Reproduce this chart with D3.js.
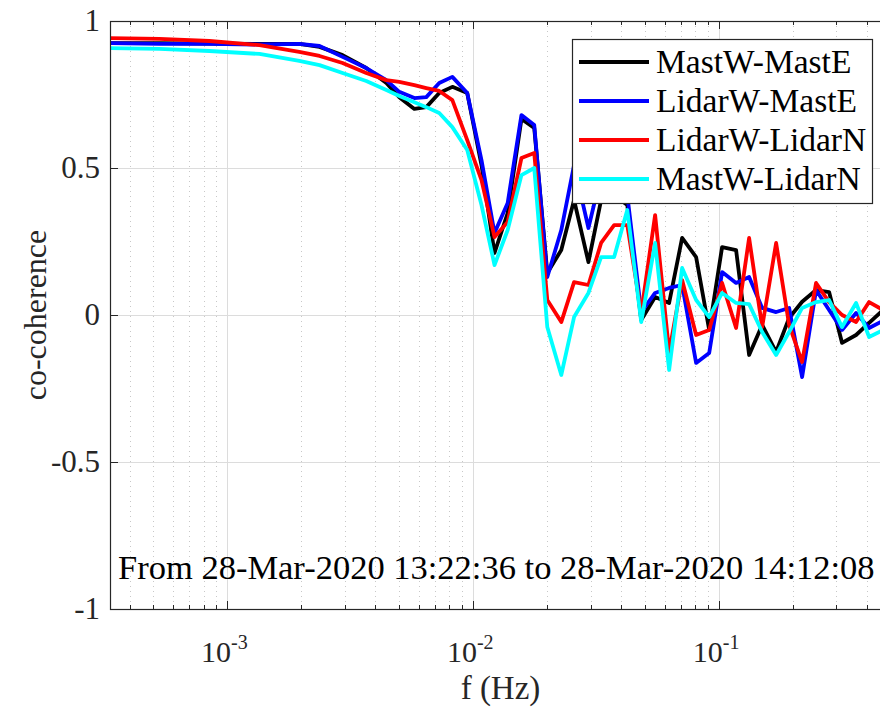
<!DOCTYPE html>
<html>
<head>
<meta charset="utf-8">
<script src="https://cdn.jsdelivr.net/npm/d3@7"></script>
<style>
  body { margin: 0; background: #fff; }
  svg { display: block; }
  svg text { font-family: 'Liberation Serif', 'DejaVu Serif', 'Noto Serif', 'Times New Roman', Times, serif; }
  .grid-major { stroke: #dcdcdc; stroke-width: 1; }
  .grid-minor { stroke: #c8c8c8; stroke-width: 1; stroke-dasharray: 1,4; }
  .tick { stroke: #262626; stroke-width: 1; }
</style>
</head>
<body>
<script>
// frequencies (Hz) and co-coherence for each pair
const freq = [0.000333, 0.000529, 0.000845, 0.00135, 0.00196, 0.00237, 0.00294, 0.00367, 0.00443, 0.00500,
  0.00576, 0.00644, 0.00727, 0.00822, 0.00945, 0.0108, 0.0122, 0.0138, 0.0157, 0.0177,
  0.0200, 0.0228, 0.0257, 0.0294, 0.0331, 0.0374, 0.0423, 0.0482, 0.0549, 0.0626,
  0.0707, 0.0806, 0.0911, 0.1028, 0.1172, 0.1324, 0.1496, 0.1705, 0.1926, 0.2175,
  0.2479, 0.2800, 0.3162, 0.3605, 0.4073, 0.4642];

const mastWMastE = [0.925, 0.925, 0.923, 0.922, 0.922, 0.912, 0.884, 0.840, 0.789, 0.741,
  0.701, 0.707, 0.755, 0.776, 0.755, 0.510, 0.211, 0.347, 0.667, 0.636,
  0.143, 0.221, 0.391, 0.180, 0.391, 0.408, 0.374, -0.017, 0.061, 0.041,
  0.262, 0.197, -0.051, 0.231, 0.221, -0.136, -0.034, -0.126, -0.010, 0.045,
  0.085, 0.078, -0.095, -0.068, -0.027, 0.017];

const lidarWMastE = [0.925, 0.922, 0.922, 0.920, 0.922, 0.915, 0.878, 0.840, 0.799, 0.759,
  0.738, 0.741, 0.789, 0.810, 0.755, 0.527, 0.279, 0.381, 0.680, 0.646,
  0.129, 0.289, 0.510, 0.296, 0.476, 0.442, 0.408, 0.010, 0.075, 0.092,
  0.102, -0.163, -0.129, 0.146, 0.109, 0.129, 0.024, 0.010, 0.024, -0.211,
  0.085, 0.017, -0.051, 0.007, -0.044, -0.020];

const lidarWLidarN = [0.942, 0.939, 0.932, 0.918, 0.895, 0.881, 0.857, 0.823, 0.799, 0.793,
  0.782, 0.772, 0.762, 0.731, 0.595, 0.459, 0.265, 0.316, 0.534, 0.551,
  0.051, -0.024, 0.112, 0.102, 0.245, 0.306, 0.306, 0.007, 0.340, -0.126,
  0.119, -0.068, -0.051, 0.109, -0.044, 0.262, -0.041, 0.245, -0.034, -0.160,
  0.109, 0.044, 0.000, -0.024, 0.044, 0.017];

const mastWLidarN = [0.908, 0.905, 0.898, 0.888, 0.864, 0.850, 0.823, 0.796, 0.765, 0.745,
  0.724, 0.707, 0.687, 0.639, 0.561, 0.374, 0.170, 0.289, 0.476, 0.500,
  -0.041, -0.204, -0.007, 0.075, 0.197, 0.197, 0.357, -0.024, 0.245, -0.187,
  0.160, 0.051, -0.007, 0.075, 0.041, 0.037, -0.058, -0.136, -0.058, 0.024,
  0.044, 0.051, -0.041, 0.041, -0.075, -0.051];

const seriesNames = ['MastW-MastE', 'LidarW-MastE', 'LidarW-LidarN', 'MastW-LidarN'];
const seriesColors = ['#000000', '#0000ff', '#ff0000', '#00ffff'];
const seriesValues = [mastWMastE, lidarWMastE, lidarWLidarN, mastWLidarN];

const yTicks = [-1, -0.5, 0, 0.5, 1];
const yTickLabels = ['-1', '-0.5', '0', '0.5', '1'];
const xMajor = [1e-3, 1e-2, 1e-1];
const xMajorExp = ['-3', '-2', '-1'];
const noteText = 'From 28-Mar-2020 13:22:36 to 28-Mar-2020 14:12:08';

let width = 880
let height = 710
const margin = { left: 110, right: 891, top: 21, bottom: 609 };

let svg = d3.select('body').append('svg')
    .attr('width', width)
    .attr('height', height);

let x = d3.scaleLog().domain([0.000333, 0.5]).range([margin.left, margin.right]);
let y = d3.scaleLinear().domain([-1, 1]).range([margin.bottom, margin.top]);

svg.append('defs').append('clipPath').attr('id', 'clip')
  .append('rect').attr('x', margin.left).attr('y', margin.top)
  .attr('width', margin.right - margin.left).attr('height', margin.bottom - margin.top);

// grid
let allX = x.ticks();
let isMajor = d => xMajor.some(m => Math.abs(m - d) / m < 1e-6);
let minorX = allX.filter(d => !isMajor(d));
let grid = svg.append('g');
grid.selectAll('line.gx').data(minorX).join('line')
  .attr('class', 'grid-minor')
  .attr('x1', d => Math.round(x(d)) + 0.5).attr('x2', d => Math.round(x(d)) + 0.5)
  .attr('y1', margin.top).attr('y2', margin.bottom);
grid.selectAll('line.gX').data(xMajor).join('line')
  .attr('class', 'grid-major')
  .attr('x1', d => Math.round(x(d)) + 0.5).attr('x2', d => Math.round(x(d)) + 0.5)
  .attr('y1', margin.top).attr('y2', margin.bottom);
grid.selectAll('line.gy').data(yTicks.slice(1, -1)).join('line')
  .attr('class', 'grid-major')
  .attr('x1', margin.left).attr('x2', margin.right)
  .attr('y1', d => Math.round(y(d)) + 0.5).attr('y2', d => Math.round(y(d)) + 0.5);

// note text
svg.append('text')
  .attr('x', 118).attr('y', 579)
  .attr('font-size', 34.5)
  .attr('fill', '#000')
  .text(noteText);

// lines
let line = d3.line().x((d, i) => x(freq[i])).y(d => y(d));
svg.append('g').attr('clip-path', 'url(#clip)')
  .selectAll('path').data(seriesValues).join('path')
  .attr('d', d => line(d))
  .attr('fill', 'none')
  .attr('stroke', (d, i) => seriesColors[i])
  .attr('stroke-width', 3.8)
  .attr('stroke-linejoin', 'round');

// box and ticks
let axes = svg.append('g');
axes.append('rect')
  .attr('x', margin.left + 0.5).attr('y', margin.top + 0.5)
  .attr('width', margin.right - margin.left).attr('height', margin.bottom - margin.top)
  .attr('fill', 'none').attr('stroke', '#262626').attr('stroke-width', 1.2);

axes.selectAll('line.ty').data(yTicks).join('line')
  .attr('class', 'tick')
  .attr('x1', margin.left).attr('x2', margin.left + 8)
  .attr('y1', d => Math.round(y(d)) + 0.5).attr('y2', d => Math.round(y(d)) + 0.5);

let xTickData = allX.map(d => ({ v: d, major: isMajor(d) }));
axes.selectAll('line.tb').data(xTickData).join('line')
  .attr('class', 'tick')
  .attr('x1', d => Math.round(x(d.v)) + 0.5).attr('x2', d => Math.round(x(d.v)) + 0.5)
  .attr('y1', margin.bottom).attr('y2', d => margin.bottom - (d.major ? 8 : 4));
axes.selectAll('line.tt').data(xTickData).join('line')
  .attr('class', 'tick')
  .attr('x1', d => Math.round(x(d.v)) + 0.5).attr('x2', d => Math.round(x(d.v)) + 0.5)
  .attr('y1', margin.top).attr('y2', d => margin.top + (d.major ? 8 : 4));

// tick labels
svg.selectAll('text.yl').data(yTicks).join('text')
  .attr('x', 100).attr('y', d => y(d) + 10)
  .attr('text-anchor', 'end')
  .attr('font-size', 31)
  .attr('fill', '#262626')
  .text((d, i) => yTickLabels[i]);

let xl = svg.selectAll('text.xl').data(xMajor).join('text')
  .attr('x', d => x(d) - 3).attr('y', 662)
  .attr('text-anchor', 'middle')
  .attr('font-size', 30)
  .attr('fill', '#262626');
xl.append('tspan').text('10');
xl.append('tspan').attr('dy', -13).attr('font-size', 20).text((d, i) => xMajorExp[i]);

// axis labels
svg.append('text')
  .attr('x', (margin.left + margin.right) / 2).attr('y', 699)
  .attr('text-anchor', 'middle')
  .attr('font-size', 33)
  .attr('fill', '#262626')
  .text('f (Hz)');

svg.append('text')
  .attr('transform', `translate(46,${ (margin.top + margin.bottom) / 2 }) rotate(-90)`)
  .attr('text-anchor', 'middle')
  .attr('font-size', 32)
  .attr('fill', '#262626')
  .text('co-coherence');

// legend
let lg = svg.append('g');
lg.append('rect')
  .attr('x', 572.5).attr('y', 39.5).attr('width', 300).attr('height', 164)
  .attr('fill', '#fff').attr('stroke', '#262626').attr('stroke-width', 1.2);
const legendY = [62, 101, 140, 179];
seriesNames.forEach((name, i) => {
  lg.append('line')
    .attr('x1', 579).attr('x2', 649)
    .attr('y1', legendY[i]).attr('y2', legendY[i])
    .attr('stroke', seriesColors[i]).attr('stroke-width', 3.8);
  lg.append('text')
    .attr('x', 656).attr('y', legendY[i] + 11)
    .attr('font-size', 33.5)
    .attr('fill', '#000')
    .text(name);
});
</script>
</body>
</html>
